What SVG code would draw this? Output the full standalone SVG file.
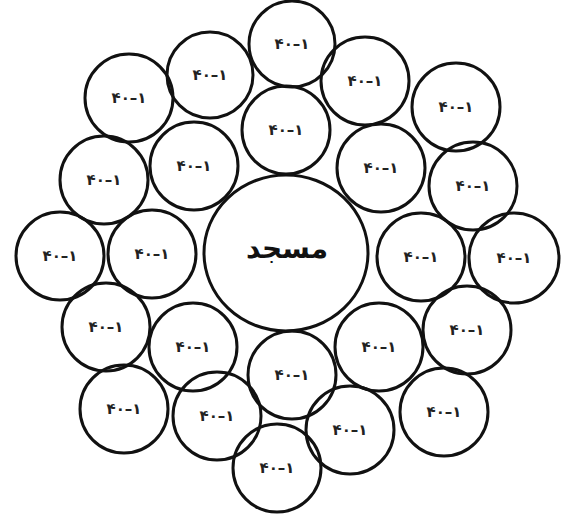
<svg xmlns="http://www.w3.org/2000/svg" width="563" height="515" viewBox="0 0 563 515">
<style>
.c{fill:none;stroke:#111;stroke-width:3}
.t{font-family:"DejaVu Sans","Noto Sans",sans-serif;font-size:15px;font-weight:bold;fill:#222;text-anchor:middle;letter-spacing:2px}
.m{font-family:"DejaVu Sans","Noto Sans",sans-serif;font-size:28px;font-weight:bold;fill:#111;text-anchor:middle}
</style>
<rect width="563" height="515" fill="#fff"/>
<g id="connectors"></g>
<g id="center"><ellipse class="c" cx="286" cy="253" rx="82" ry="78"/><text class="m" x="287" y="258">مسجد</text></g>
<g id="n1"><circle class="c" cx="292" cy="44" r="43"/><text class="t" x="292" y="49">۴۰–۱</text></g>
<g id="n2"><circle class="c" cx="210" cy="75" r="43"/><text class="t" x="210" y="80">۴۰–۱</text></g>
<g id="n3"><circle class="c" cx="129" cy="98" r="44"/><text class="t" x="129" y="103">۴۰–۱</text></g>
<g id="n4"><circle class="c" cx="365" cy="81" r="44"/><text class="t" x="365" y="86">۴۰–۱</text></g>
<g id="n5"><circle class="c" cx="456" cy="107" r="44"/><text class="t" x="456" y="112">۴۰–۱</text></g>
<g id="n6"><circle class="c" cx="286" cy="130" r="44"/><text class="t" x="286" y="135">۴۰–۱</text></g>
<g id="n7"><circle class="c" cx="194" cy="166" r="44"/><text class="t" x="194" y="171">۴۰–۱</text></g>
<g id="n8"><circle class="c" cx="104" cy="180" r="44"/><text class="t" x="104" y="185">۴۰–۱</text></g>
<g id="n9"><circle class="c" cx="381" cy="168" r="44"/><text class="t" x="381" y="173">۴۰–۱</text></g>
<g id="n10"><circle class="c" cx="473" cy="186" r="44"/><text class="t" x="473" y="191">۴۰–۱</text></g>
<g id="n11"><circle class="c" cx="60" cy="256" r="44"/><text class="t" x="60" y="261">۴۰–۱</text></g>
<g id="n12"><circle class="c" cx="152" cy="254" r="44"/><text class="t" x="152" y="259">۴۰–۱</text></g>
<g id="n13"><circle class="c" cx="421" cy="257" r="44"/><text class="t" x="421" y="262">۴۰–۱</text></g>
<g id="n14"><circle class="c" cx="514" cy="258" r="45"/><text class="t" x="514" y="263">۴۰–۱</text></g>
<g id="n15"><circle class="c" cx="106" cy="327" r="44"/><text class="t" x="106" y="332">۴۰–۱</text></g>
<g id="n16"><circle class="c" cx="193" cy="347" r="44"/><text class="t" x="193" y="352">۴۰–۱</text></g>
<g id="n17"><circle class="c" cx="292" cy="375" r="44"/><text class="t" x="292" y="380">۴۰–۱</text></g>
<g id="n18"><circle class="c" cx="379" cy="347" r="44"/><text class="t" x="379" y="352">۴۰–۱</text></g>
<g id="n19"><circle class="c" cx="467" cy="330" r="44"/><text class="t" x="467" y="335">۴۰–۱</text></g>
<g id="n20"><circle class="c" cx="124" cy="409" r="44"/><text class="t" x="124" y="414">۴۰–۱</text></g>
<g id="n21"><circle class="c" cx="217" cy="416" r="44"/><text class="t" x="217" y="421">۴۰–۱</text></g>
<g id="n22"><circle class="c" cx="277" cy="468" r="44"/><text class="t" x="277" y="473">۴۰–۱</text></g>
<g id="n23"><circle class="c" cx="350" cy="430" r="44"/><text class="t" x="350" y="435">۴۰–۱</text></g>
<g id="n24"><circle class="c" cx="444" cy="412" r="44"/><text class="t" x="444" y="417">۴۰–۱</text></g>
</svg>
